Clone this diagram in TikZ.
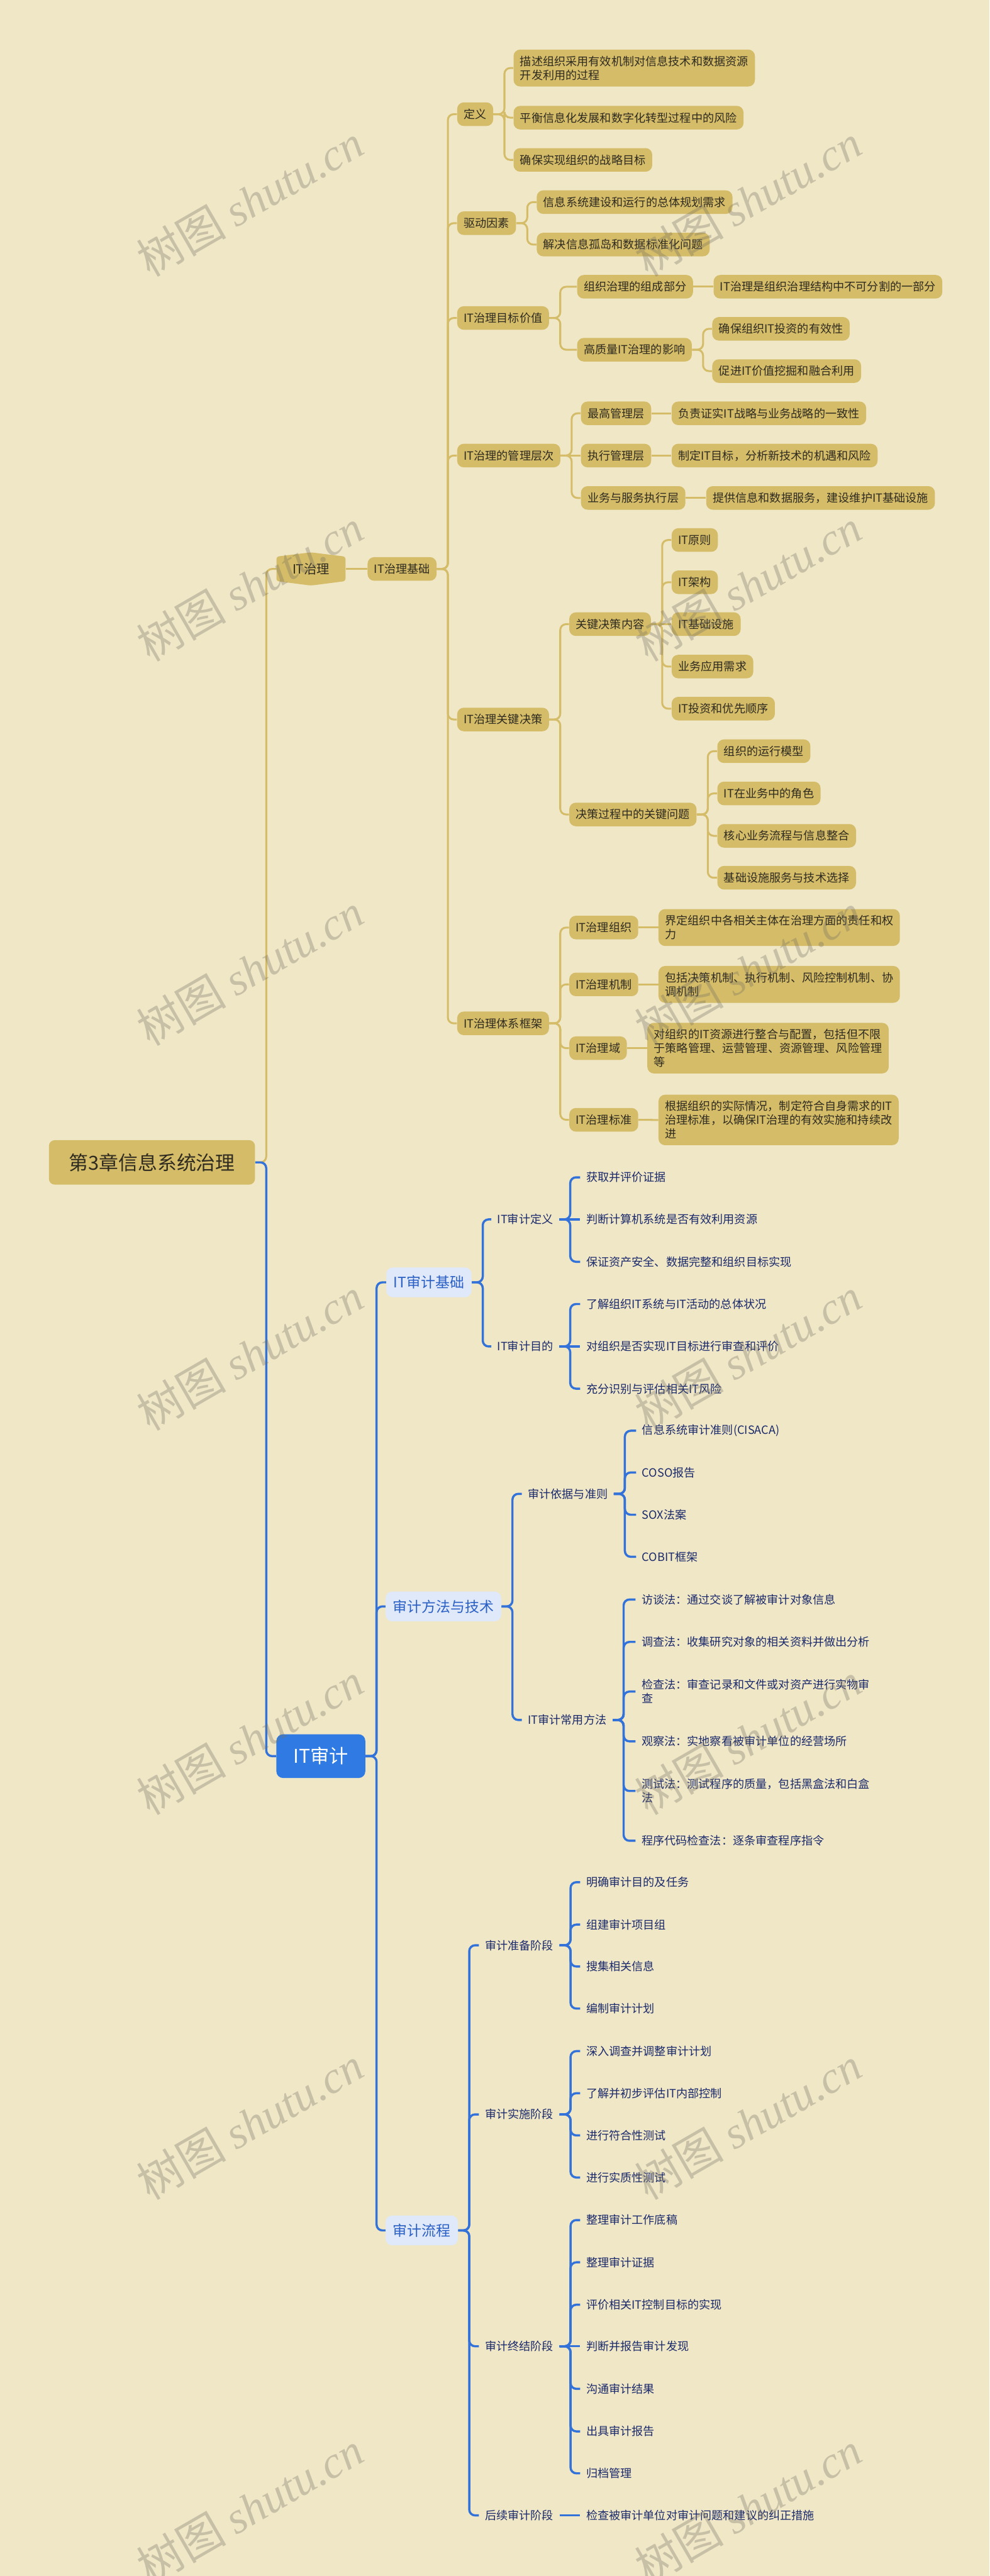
\documentclass[tikz,border=0pt]{standalone}
\usepackage{fontspec}
\setmainfont{Noto Sans CJK SC}
\newfontfamily\markfont{Liberation Serif}
\definecolor{paper}{HTML}{F0E7C7}
\definecolor{gold}{HTML}{D4BC68}
\definecolor{ink}{HTML}{2F2B20}
\definecolor{audit}{HTML}{2F7BE3}
\definecolor{auditlight}{HTML}{E0E9FA}
\definecolor{auditink}{HTML}{2A5FC4}
\definecolor{navy}{HTML}{1B2A6B}
\definecolor{wire}{HTML}{3272D9}
\definecolor{markc}{HTML}{787364}
\tikzset{
  rootbox/.style={fill=gold, text=ink, rounded corners=1.5mm, anchor=west,
    minimum width=53.3mm, minimum height=11.5mm, font=\fontsize{14.3}{17}\selectfont},
  auditbox/.style={fill=audit, text=white, rounded corners=1.7mm, anchor=west,
    minimum width=23mm, minimum height=11.3mm, font=\fontsize{14}{17}\selectfont},
  goldbox/.style={fill=gold, text=ink, rounded corners=1.7mm, anchor=west, align=left,
    inner xsep=1.7mm, inner ysep=1.6mm, minimum height=6.1mm,
    font=\fontsize{8.4}{10.2}\selectfont},
  lightbox/.style={fill=auditlight, text=auditink, rounded corners=1.7mm, anchor=west,
    inner xsep=1.9mm, minimum height=7.7mm, font=\fontsize{10.6}{12}\selectfont},
  leaf/.style={text=navy, anchor=west, align=left, inner xsep=1.5mm, inner ysep=1mm,
    font=\fontsize{8.4}{10.2}\selectfont},
  goldwire/.style={draw=gold, line width=1.4pt, rounded corners=1.5mm,
    to path={-- ++(6.7,0) |- (\tikztotarget)}},
  bluewire/.style={draw=wire, line width=1.6pt, rounded corners=1.5mm,
    to path={-- ++(6.7,0) |- (\tikztotarget)}},
  wmark/.style={rotate=30, text=markc, text opacity=0.33, inner sep=0pt,
    font=\fontsize{33}{33}\selectfont}
}
\begin{document}
\begin{tikzpicture}[x=0.4252mm, y=-0.4252mm]
      \useasboundingbox (0,0) rectangle (602.07,1567.5);
      \fill[paper] (0,0) rectangle (602.07,1567.5);
      % hexagon behind IT治理
      \fill[gold, rounded corners=0.6mm] (168.2,338.7) -- (189.2,336.1) -- (210.2,338.7)
        -- (210.2,353.6) -- (189.2,356.3) -- (168.2,353.6) -- cycle;
      \draw
        (29.6,707.3) node[rootbox] (root){第3章信息系统治理}
        (189.2,346.2) node[text=ink, inner sep=0pt, minimum width=17.86mm, minimum height=7.5mm,
          font=\fontsize{9.4}{11}\selectfont] (gov){IT治理}
        (223.5,346.2) node[goldbox] (govbase){IT治理基础}
        (278,69.5) node[goldbox] (def){定义}
        (278,135.8) node[goldbox] (drive){驱动因素}
        (278,193.5) node[goldbox] (goal){IT治理目标价值}
        (278,277.2) node[goldbox] (level){IT治理的管理层次}
        (278,437.8) node[goldbox] (decide){IT治理关键决策}
        (278,622.7) node[goldbox] (frame){IT治理体系框架}
        (312.3,41.4) node[goldbox] (def1){描述组织采用有效机制对信息技术和数据资源\\开发利用的过程}
        (312.3,71.6) node[goldbox] (def2){平衡信息化发展和数字化转型过程中的风险}
        (312.3,97.3) node[goldbox] (def3){确保实现组织的战略目标}
        (326.4,123) node[goldbox] (drive1){信息系统建设和运行的总体规划需求}
        (326.4,148.8) node[goldbox] (drive2){解决信息孤岛和数据标准化问题}
        (351,174.5) node[goldbox] (goal1){组织治理的组成部分}
        (434,174.5) node[goldbox] (goal1a){IT治理是组织治理结构中不可分割的一部分}
        (351,212.8) node[goldbox] (goal2){高质量IT治理的影响}
        (433.2,200.1) node[goldbox] (goal2a){确保组织IT投资的有效性}
        (433.2,225.8) node[goldbox] (goal2b){促进IT价值挖掘和融合利用}
        (353.3,251.5) node[goldbox] (lv1){最高管理层}
        (408.5,251.5) node[goldbox] (lv1a){负责证实IT战略与业务战略的一致性}
        (353.3,277.2) node[goldbox] (lv2){执行管理层}
        (408.5,277.2) node[goldbox] (lv2a){制定IT目标，分析新技术的机遇和风险}
        (353.3,303) node[goldbox] (lv3){业务与服务执行层}
        (429.5,303) node[goldbox] (lv3a){提供信息和数据服务，建设维护IT基础设施}
        (346.2,379.8) node[goldbox] (key){关键决策内容}
        (408.5,328.6) node[goldbox] (key1){IT原则}
        (408.5,354.3) node[goldbox] (key2){IT架构}
        (408.5,379.8) node[goldbox] (key3){IT基础设施}
        (408.5,405.6) node[goldbox] (key4){业务应用需求}
        (408.5,431.2) node[goldbox] (key5){IT投资和优先顺序}
        (346.2,495.6) node[goldbox] (issue){决策过程中的关键问题}
        (436.3,457.1) node[goldbox] (issue1){组织的运行模型}
        (436.3,482.8) node[goldbox] (issue2){IT在业务中的角色}
        (436.3,508.6) node[goldbox] (issue3){核心业务流程与信息整合}
        (436.3,534.1) node[goldbox] (issue4){基础设施服务与技术选择}
        (346.2,564.4) node[goldbox] (fr1){IT治理组织}
        (400.5,564.4) node[goldbox] (fr1a){界定组织中各相关主体在治理方面的责任和权\\力}
        (346.2,599) node[goldbox] (fr2){IT治理机制}
        (400.5,599) node[goldbox] (fr2a){包括决策机制、执行机制、风险控制机制、协\\调机制}
        (346.2,637.8) node[goldbox] (fr3){IT治理域}
        (393.7,637.8) node[goldbox] (fr3a){对组织的IT资源进行整合与配置，包括但不限\\于策略管理、运营管理、资源管理、风险管理\\等}
        (346.2,681.4) node[goldbox] (fr4){IT治理标准}
        (400.5,681.5) node[goldbox] (fr4a){根据组织的实际情况，制定符合自身需求的IT\\治理标准，以确保IT治理的有效实施和持续改\\进};
      \draw
        (168,1068.6) node[auditbox] (audit){IT审计}
        (234.9,780.3) node[lightbox] (abase){IT审计基础}
        (234.5,977.5) node[lightbox] (amethod){审计方法与技术}
        (234.5,1357.2) node[lightbox] (aflow){审计流程}
        (298.9,742) node[leaf] (adef){IT审计定义}
        (353,716.4) node[leaf] (adef1){获取并评价证据}
        (353,742) node[leaf] (adef2){判断计算机系统是否有效利用资源}
        (353,767.8) node[leaf] (adef3){保证资产安全、数据完整和组织目标实现}
        (298.9,819.3) node[leaf] (aaim){IT审计目的}
        (353,793.5) node[leaf] (aaim1){了解组织IT系统与IT活动的总体状况}
        (353,819.3) node[leaf] (aaim2){对组织是否实现IT目标进行审查和评价}
        (353,845) node[leaf] (aaim3){充分识别与评估相关IT风险}
        (317.5,909) node[leaf] (abasis){审计依据与准则}
        (387,870.6) node[leaf] (abasis1){信息系统审计准则(CISACA)}
        (387,896) node[leaf] (abasis2){COSO报告}
        (387,921.7) node[leaf] (abasis3){SOX法案}
        (387,947.3) node[leaf] (abasis4){COBIT框架}
        (317.5,1046.6) node[leaf] (awork){IT审计常用方法}
        (386.7,973.3) node[leaf] (awork1){访谈法：通过交谈了解被审计对象信息}
        (386.7,999.1) node[leaf] (awork2){调查法：收集研究对象的相关资料并做出分析}
        (386.7,1029.3) node[leaf] (awork3){检查法：审查记录和文件或对资产进行实物审\\查}
        (386.7,1059.6) node[leaf] (awork4){观察法：实地察看被审计单位的经营场所}
        (386.7,1089.8) node[leaf] (awork5){测试法：测试程序的质量，包括黑盒法和白盒\\法}
        (386.7,1120.1) node[leaf] (awork6){程序代码检查法：逐条审查程序指令}
        (291.4,1183.7) node[leaf] (aprep){审计准备阶段}
        (353,1145.3) node[leaf] (aprep1){明确审计目的及任务}
        (353,1171.1) node[leaf] (aprep2){组建审计项目组}
        (353,1196.6) node[leaf] (aprep3){搜集相关信息}
        (353,1222.2) node[leaf] (aprep4){编制审计计划}
        (291.4,1286.6) node[leaf] (ado){审计实施阶段}
        (353,1248.1) node[leaf] (ado1){深入调查并调整审计计划}
        (353,1273.7) node[leaf] (ado2){了解并初步评估IT内部控制}
        (353,1299.4) node[leaf] (ado3){进行符合性测试}
        (353,1325) node[leaf] (ado4){进行实质性测试}
        (291.4,1427.7) node[leaf] (aend){审计终结阶段}
        (353,1350.9) node[leaf] (aend1){整理审计工作底稿}
        (353,1376.6) node[leaf] (aend2){整理审计证据}
        (353,1402.4) node[leaf] (aend3){评价相关IT控制目标的实现}
        (353,1427.7) node[leaf] (aend4){判断并报告审计发现}
        (353,1453.6) node[leaf] (aend5){沟通审计结果}
        (353,1479.5) node[leaf] (aend6){出具审计报告}
        (353,1505) node[leaf] (aend7){归档管理}
        (291.4,1530.6) node[leaf] (aafter){后续审计阶段}
        (353,1530.6) node[leaf] (aafter1){检查被审计单位对审计问题和建议的纠正措施};
      \begin{scope}[goldwire]
        \draw (root.east) to (gov.west);
        \draw (gov.east) -- (govbase.west);
        \draw (govbase.east) to (def.west);
        \draw (govbase.east) to (drive.west);
        \draw (govbase.east) to (goal.west);
        \draw (govbase.east) to (level.west);
        \draw (govbase.east) to (decide.west);
        \draw (govbase.east) to (frame.west);
        \draw (def.east) to (def1.west);
        \draw (def.east) to (def2.west);
        \draw (def.east) to (def3.west);
        \draw (drive.east) to (drive1.west);
        \draw (drive.east) to (drive2.west);
        \draw (goal.east) to (goal1.west);
        \draw (goal.east) to (goal2.west);
        \draw (goal1.east) -- (goal1a.west);
        \draw (goal2.east) to (goal2a.west);
        \draw (goal2.east) to (goal2b.west);
        \draw (level.east) to (lv1.west);
        \draw (level.east) -- (lv2.west);
        \draw (level.east) to (lv3.west);
        \draw (lv1.east) -- (lv1a.west);
        \draw (lv2.east) -- (lv2a.west);
        \draw (lv3.east) -- (lv3a.west);
        \draw (decide.east) to (key.west);
        \draw (decide.east) to (issue.west);
        \draw (key.east) to (key1.west);
        \draw (key.east) to (key2.west);
        \draw (key.east) -- (key3.west);
        \draw (key.east) to (key4.west);
        \draw (key.east) to (key5.west);
        \draw (issue.east) to (issue1.west);
        \draw (issue.east) to (issue2.west);
        \draw (issue.east) to (issue3.west);
        \draw (issue.east) to (issue4.west);
        \draw (frame.east) to (fr1.west);
        \draw (frame.east) to (fr2.west);
        \draw (frame.east) to (fr3.west);
        \draw (frame.east) to (fr4.west);
        \draw (fr1.east) -- (fr1a.west);
        \draw (fr2.east) -- (fr2a.west);
        \draw (fr3.east) -- (fr3a.west);
        \draw (fr4.east) -- (fr4a.west);
      \end{scope}
      \begin{scope}[bluewire]
        \draw (root.east) to (audit.west);
        \draw (audit.east) to (abase.west);
        \draw (audit.east) to (amethod.west);
        \draw (audit.east) to (aflow.west);
        \draw (abase.east) to (adef.west);
        \draw (abase.east) to (aaim.west);
        \draw (adef.east) to (adef1.west);
        \draw (adef.east) -- (adef2.west);
        \draw (adef.east) to (adef3.west);
        \draw (aaim.east) to (aaim1.west);
        \draw (aaim.east) -- (aaim2.west);
        \draw (aaim.east) to (aaim3.west);
        \draw (amethod.east) to (abasis.west);
        \draw (amethod.east) to (awork.west);
        \draw (abasis.east) to (abasis1.west);
        \draw (abasis.east) to (abasis2.west);
        \draw (abasis.east) to (abasis3.west);
        \draw (abasis.east) to (abasis4.west);
        \draw (awork.east) to (awork1.west);
        \draw (awork.east) to (awork2.west);
        \draw (awork.east) to (awork3.west);
        \draw (awork.east) to (awork4.west);
        \draw (awork.east) to (awork5.west);
        \draw (awork.east) to (awork6.west);
        \draw (aflow.east) to (aprep.west);
        \draw (aflow.east) to (ado.west);
        \draw (aflow.east) to (aend.west);
        \draw (aflow.east) to (aafter.west);
        \draw (aprep.east) to (aprep1.west);
        \draw (aprep.east) to (aprep2.west);
        \draw (aprep.east) to (aprep3.west);
        \draw (aprep.east) to (aprep4.west);
        \draw (ado.east) to (ado1.west);
        \draw (ado.east) to (ado2.west);
        \draw (ado.east) to (ado3.west);
        \draw (ado.east) to (ado4.west);
        \draw (aend.east) to (aend1.west);
        \draw (aend.east) to (aend2.west);
        \draw (aend.east) to (aend3.west);
        \draw (aend.east) -- (aend4.west);
        \draw (aend.east) to (aend5.west);
        \draw (aend.east) to (aend6.west);
        \draw (aend.east) to (aend7.west);
        \draw (aafter.east) -- (aafter1.west);
      \end{scope}
      % watermark
      \draw
        (152,122) node[wmark] (m1){树图 {\markfont\itshape shutu.cn}}
        (455,122) node[wmark] (m2){树图 {\markfont\itshape shutu.cn}}
        (152,356) node[wmark] (m3){树图 {\markfont\itshape shutu.cn}}
        (455,356) node[wmark] (m4){树图 {\markfont\itshape shutu.cn}}
        (152,590) node[wmark] (m5){树图 {\markfont\itshape shutu.cn}}
        (455,590) node[wmark] (m6){树图 {\markfont\itshape shutu.cn}}
        (152,824) node[wmark] (m7){树图 {\markfont\itshape shutu.cn}}
        (455,824) node[wmark] (m8){树图 {\markfont\itshape shutu.cn}}
        (152,1058) node[wmark] (m9){树图 {\markfont\itshape shutu.cn}}
        (455,1058) node[wmark] (m10){树图 {\markfont\itshape shutu.cn}}
        (152,1292) node[wmark] (m11){树图 {\markfont\itshape shutu.cn}}
        (455,1292) node[wmark] (m12){树图 {\markfont\itshape shutu.cn}}
        (152,1526) node[wmark] (m13){树图 {\markfont\itshape shutu.cn}}
        (455,1526) node[wmark] (m14){树图 {\markfont\itshape shutu.cn}};
    \end{tikzpicture}
\end{document}
